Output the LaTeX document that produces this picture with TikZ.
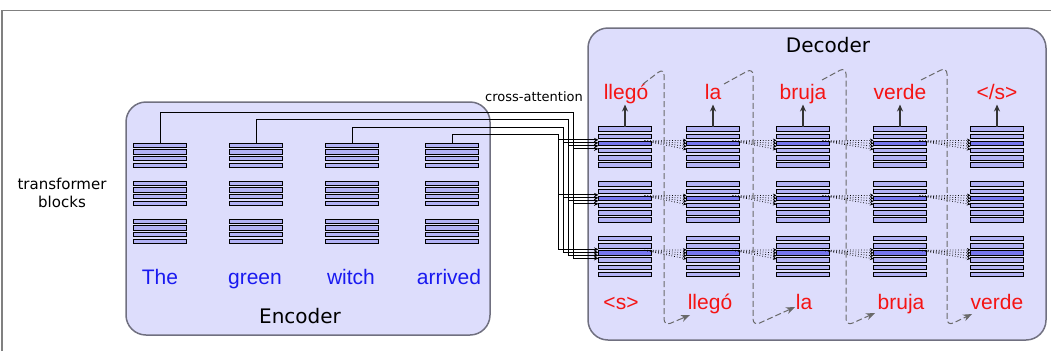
\documentclass[tikz,border=0pt]{standalone}
\usepackage{fontspec}
\setmainfont{Liberation Sans}
\newfontfamily\lgfont{DejaVu Sans}
\usetikzlibrary{arrows.meta,calc}
\definecolor{boxfill}{RGB}{221,221,252}
\definecolor{boxdraw}{RGB}{112,112,128}
\definecolor{barfill}{RGB}{178,178,245}
\definecolor{barhi}{RGB}{118,118,240}
\definecolor{wordred}{RGB}{245,20,20}
\definecolor{wordblue}{RGB}{25,25,240}
\definecolor{framecol}{RGB}{128,128,128}
\definecolor{dashcol}{RGB}{105,105,105}
\begin{document}
\begin{tikzpicture}[x=1pt,y=-1pt,
  panel/.style={draw=boxdraw, line width=1.5pt, fill=boxfill, rounded corners=20pt},
  ebar/.style={draw=black, line width=0.75pt, fill=barfill, minimum width=53pt, minimum height=4.3pt, inner sep=0pt, outer sep=0pt},
  dbar/.style={ebar, minimum height=4.5pt},
  dbarhi/.style={dbar, fill=barhi},
  redword/.style={text=wordred, font=\fontsize{21}{25}\selectfont, anchor=base, inner sep=0pt},
  blueword/.style={text=wordblue, font=\fontsize{21}{25}\selectfont, anchor=base, inner sep=0pt},
  label/.style={font=\lgfont\fontsize{20}{24}\selectfont, anchor=base, inner sep=0pt},
  wire/.style={draw=black, line width=0.8pt},
  wirearr/.style={wire, -{Stealth[length=4.5pt,width=4pt]}},
  dotline/.style={draw=black, line width=0.75pt, dotted, -{Stealth[length=3.5pt,width=3.5pt]}},
  outarr/.style={draw=black!80, line width=1.2pt, -{Stealth[length=7pt,width=6pt]}},
  dashcurve/.style={draw=dashcol, line width=1pt, dash pattern=on 6pt off 3pt, rounded corners=7pt},
  dashtip/.style={draw=dashcol, fill=dashcol, line width=1pt, solid, -{Stealth[length=9pt,width=7pt]}}
]
\useasboundingbox (0,0) rectangle (1051,351);
% frame
\draw[framecol, line width=1.3pt] (2,351) -- (2,10.5) -- (1051,10.5);
% panels
\draw[panel] (126,102) rectangle (490,335);
\draw[panel] (588,28) rectangle (1046,340);
\node[label] (enclab) at (300,323) {Encoder};
\node[label] (declab) at (828,52.5) {Decoder};
\node[font=\lgfont\fontsize{15}{18}\selectfont, align=center, inner sep=0pt] (tblab) at (62,193) {transformer\\blocks};
\node[font=\lgfont\fontsize{13}{16}\selectfont, anchor=base, inner sep=0pt] (calab) at (534,101.5) {cross-attention};
% encoder stacks
\foreach \c/\x in {1/160,2/256,3/352,4/452}{
  \foreach \g/\yt in {1/143,2/181,3/219}{
    \foreach \b in {1,...,4}{
      \node[ebar] (e-\c-\g-\b) at (\x,{\yt+(\b-1)*6.65+2.15}) {};
    }
  }
}
% decoder stacks
\foreach \c/\x in {1/625,2/713,3/803,4/900,5/997}{
  \foreach \g/\yt in {1/126.7,2/181.7,3/236.2}{
    \foreach \b in {1,2,4,5,6}{
      \node[dbar] (d-\c-\g-\b) at (\x,{\yt+(\b-1)*7.2+2.25}) {};
    }
    \node[dbarhi] (d-\c-\g-3) at (\x,{\yt+2*7.2+2.25}) {};
  }
}
% encoder words
\node[blueword] (w1) at (160,284) {The};
\node[blueword] (w2) at (255,284) {green};
\node[blueword] (w3) at (351,284) {witch};
\node[blueword] (w4) at (449,284) {arrived};
% decoder output words
\node[redword] (o1) at (626,99) {llegó};
\node[redword] (o2) at (713,99) {la};
\node[redword] (o3) at (803,99) {bruja};
\node[redword] (o4) at (900,99) {verde};
\node[redword] (o5) at (997,99) {</s>};
% decoder input words
\node[redword] (i1) at (621,309) {<s>};
\node[redword] (i2) at (710,309) {llegó};
\node[redword] (i3) at (804,309) {la};
\node[redword] (i4) at (901,309) {bruja};
\node[redword] (i5) at (997,309) {verde};
% output arrows
\foreach \c/\x in {1/625,2/713,3/803,4/900,5/997}{
  \coordinate (ot-\c) at (\x,104.5);
  \draw[outarr] (d-\c-1-1.north) -- (ot-\c);
}
% cross-attention wires
\foreach \c/\vx/\hy/\off in {1/573/112/9,2/568/119/6,3/563/127/3,4/558/134/0}{
  \coordinate (ct-\c) at (\vx,\hy);
  \foreach \g in {1,2,3}{
    \coordinate (cv-\c-\g) at ($(ct-\c |- d-1-\g-3.center)+(0,\off-3.5)$);
  }
  \draw[wire] (e-\c-1-1.north) |- (ct-\c) -- (cv-\c-3);
  \foreach \g in {1,2,3}{
    \draw[wirearr] (cv-\c-\g) -- (cv-\c-\g -| d-1-\g-3.west);
  }
}
% dotted self-attention connections
\foreach \g in {1,2,3}{
  \foreach \j in {2,3,4,5}{
    \pgfmathtruncatemacro{\pj}{\j-1}
    \coordinate (ds-\g-\j) at ($(d-\pj-\g-3.east)+(-7,-2.5)$);
    \foreach \k in {0,1,2,3}{
      \coordinate (de-\g-\j-\k) at ($(d-\j-\g-3.west)+(0,\k*3-3)$);
      \draw[dotline] (ds-\g-\j) -- (de-\g-\j-\k);
    }
  }
}
% dashed autoregressive feedback curves
\foreach \n/\sx/\sy/\vx/\ty/\ex/\ey in {1/643/84/664/68/690/315,2/724/84/753/68/795/307,3/822/80/846/67/875/313,4/921/80/947/67/972/314}{
  \coordinate (fs-\n) at (\sx,\sy);
  \coordinate (ft-\n) at (\vx,\ty);
  \coordinate (fb-\n) at (\vx,326);
  \coordinate (fe-\n) at (\ex,\ey);
  \coordinate (fm-\n) at ($(fe-\n)!9pt!(fb-\n)$);
  \draw[dashcurve] (fs-\n) -- (ft-\n) -- (fb-\n) -- (fm-\n);
  \draw[dashtip] (fm-\n) -- (fe-\n);
}
\end{tikzpicture}
\end{document}
